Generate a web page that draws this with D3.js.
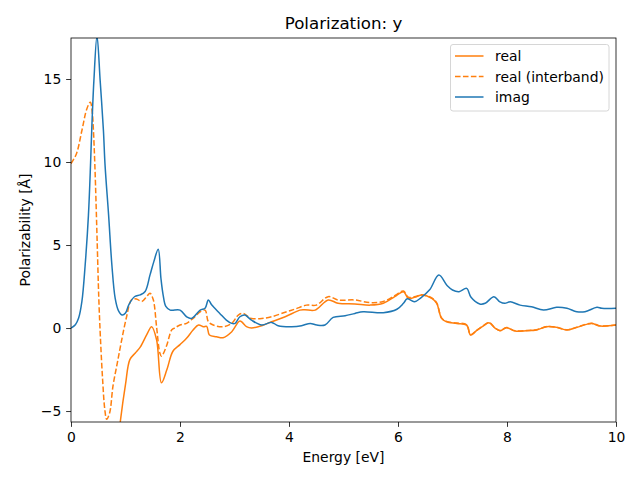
<!DOCTYPE html>
<html><head><meta charset="utf-8">
<script src="https://cdn.jsdelivr.net/npm/d3@7"></script>
<style>body{margin:0;background:#fff}svg{display:block}text{font-family:"DejaVu Sans",sans-serif;fill:#000}</style>
</head><body>
<script>
const title = "Polarization: y";
const xLabel = "Energy [eV]";
const yLabel = "Polarizability [Å]";
const seriesNames = ["real", "real (interband)", "imag"];
const xTicks = [0, 2, 4, 6, 8, 10];
const yTicks = [-5, 0, 5, 10, 15];

const energyReal = [0.6,0.7,0.8,0.91,1.0,1.08,1.18,1.27,1.39,1.48,1.57,1.66,1.76,1.87,2.0,2.12,2.24,2.34,2.43,2.49,2.54,2.67,2.79,2.95,3.1,3.22,3.31,3.5,3.68,3.93,4.2,4.29,4.48,4.72,4.9,5.21,5.49,5.73,5.94,6.1,6.19,6.34,6.43,6.62,6.71,6.8,6.89,7.08,7.26,7.33,7.44,7.56,7.67,7.78,7.87,7.99,8.15,8.36,8.54,8.73,8.91,9.1,9.28,9.55,9.71,10];
const real = [-22,-14,-8.8,-5.5,-3.4,-1.9,-1.5,-1.15,-0.4,0.08,-0.7,-3.3,-2.5,-1.4,-1.0,-0.62,-0.12,0.18,0.08,0.1,-0.42,-0.52,-0.58,-0.22,0.42,0.08,0.0,0.14,0.38,0.68,1.08,1.1,1.08,1.69,1.49,1.45,1.38,1.49,1.89,2.19,1.79,1.89,1.99,1.79,1.49,0.58,0.38,0.28,0.18,-0.42,-0.16,0.12,0.32,0.0,-0.16,0.02,-0.18,-0.16,-0.12,0.08,0.04,-0.12,0.04,0.28,0.12,0.18];

const energyInter = [0,0.1,0.2,0.29,0.355,0.39,0.41,0.44,0.475,0.51,0.54,0.58,0.62,0.655,0.71,0.77,0.85,0.93,1.02,1.11,1.2,1.3,1.39,1.45,1.51,1.57,1.63,1.66,1.75,1.85,1.9,2.0,2.12,2.24,2.37,2.46,2.52,2.61,2.79,2.95,3.07,3.16,3.25,3.31,3.5,3.68,3.93,4.11,4.32,4.5,4.72,4.9,5.21,5.49,5.73,5.94,6.1,6.19,6.34,6.43,6.62,6.71,6.8,6.89,7.08,7.26,7.33,7.44,7.56,7.67,7.78,7.87,7.99,8.15,8.36,8.54,8.73,8.91,9.1,9.28,9.55,9.71,10];
const interband = [9.9,10.5,11.9,13.2,13.6,13.0,12.0,9.6,5.8,1.8,-0.6,-3.1,-4.9,-5.5,-5.1,-3.5,-2.1,-0.72,0.68,1.7,1.75,1.6,1.9,2.1,1.7,0.08,-1.5,-1.7,-1.1,-0.1,0.0,0.18,0.28,0.58,0.98,1.08,0.38,0.18,0.08,0.28,0.78,0.88,0.68,0.58,0.58,0.68,0.95,1.14,1.38,1.38,1.89,1.69,1.69,1.53,1.6,1.95,2.23,1.85,1.92,2.0,1.82,1.52,0.6,0.4,0.3,0.2,-0.4,-0.15,0.13,0.33,0.01,-0.15,0.03,-0.17,-0.15,-0.11,0.09,0.05,-0.11,0.05,0.29,0.13,0.19];

const energyImag = [0,0.08,0.14,0.2,0.26,0.32,0.36,0.38,0.42,0.477,0.535,0.595,0.625,0.69,0.75,0.81,0.87,0.94,1.0,1.06,1.17,1.27,1.36,1.45,1.52,1.6,1.65,1.69,1.74,1.82,2.0,2.12,2.21,2.37,2.46,2.52,2.58,2.73,2.85,2.95,3.01,3.1,3.19,3.31,3.5,3.68,3.8,4.05,4.23,4.39,4.51,4.66,4.81,5.03,5.21,5.36,5.73,5.98,6.1,6.17,6.3,6.42,6.58,6.75,6.9,7.0,7.12,7.26,7.34,7.5,7.6,7.76,7.87,7.96,8.06,8.24,8.45,8.67,8.91,9.1,9.28,9.43,9.65,9.74,10];
const imag = [0,0.2,0.6,1.6,3.8,6.8,10.0,11.9,14.9,17.6,14.9,11.9,9.8,6.8,3.8,1.8,1.05,0.78,0.9,1.4,1.9,2.0,2.2,3.2,4.0,4.75,3.0,2.0,1.3,1.08,1.08,0.68,0.58,1.08,1.19,1.69,1.4,0.88,0.48,0.28,0.28,0.68,0.78,0.48,0.18,0.34,0.14,0.08,0.14,0.28,0.18,0.18,0.64,0.74,0.88,0.98,0.92,1.13,1.49,1.76,1.58,1.82,2.3,3.19,2.56,2.29,2.19,2.39,1.85,1.45,1.49,1.89,1.58,1.49,1.58,1.38,1.28,1.08,1.25,1.19,0.98,0.98,1.25,1.19,1.19];

const W = 640, H = 480;
const m = {left: 71, right: 616, top: 38, bottom: 422};
const x = d3.scaleLinear().domain([0, 10]).range([m.left, m.right]);
const y = d3.scaleLinear().domain([-5.66, 17.47]).range([m.bottom, m.top]);

const svg = d3.select("body").append("svg").attr("width", W).attr("height", H);
svg.append("rect").attr("width", W).attr("height", H).attr("fill", "#fff");
svg.append("defs").append("clipPath").attr("id", "clip").append("rect")
  .attr("x", m.left).attr("y", m.top).attr("width", m.right - m.left).attr("height", m.bottom - m.top);

const colors = ["#ff7f0e", "#ff7f0e", "#1f77b4"];
const dashes = [null, "5.55,2.4", null];
const data = [
  d3.zip(energyReal, real),
  d3.zip(energyInter, interband),
  d3.zip(energyImag, imag)
];
const line = d3.line().x(d => x(d[0])).y(d => y(d[1])).curve(d3.curveCatmullRom.alpha(0.5));
const g = svg.append("g").attr("clip-path", "url(#clip)");
data.forEach((d, i) => {
  g.append("path").datum(d).attr("d", line).attr("fill", "none")
    .attr("stroke", colors[i]).attr("stroke-width", 1.5)
    .attr("stroke-dasharray", dashes[i]).attr("stroke-linejoin", "round");
});

const fmt = v => (v < 0 ? "\u2212" + Math.abs(v) : String(v));
const xAxis = svg.append("g").attr("transform", `translate(0,${m.bottom})`)
  .call(d3.axisBottom(x).tickValues(xTicks).tickFormat(fmt).tickSizeOuter(0).tickSize(4.86).tickPadding(4.86));
const yAxis = svg.append("g").attr("transform", `translate(${m.left},0)`)
  .call(d3.axisLeft(y).tickValues(yTicks).tickFormat(fmt).tickSizeOuter(0).tickSize(4.86).tickPadding(4.86));
[xAxis, yAxis].forEach(a => {
  a.select(".domain").remove();
  a.selectAll("line").attr("stroke", "#000").attr("stroke-width", 0.8);
  a.selectAll("text").style("font-size", "13.9px").style("font-family", "DejaVu Sans");
});

svg.append("rect").attr("x", m.left).attr("y", m.top).attr("width", m.right - m.left)
  .attr("height", m.bottom - m.top).attr("fill", "none").attr("stroke", "#000").attr("stroke-width", 0.8);

svg.append("text").attr("x", (m.left + m.right) / 2).attr("y", 29).attr("text-anchor", "middle")
  .style("font-size", "16.67px").text(title);
svg.append("text").attr("x", (m.left + m.right) / 2).attr("y", 462).attr("text-anchor", "middle")
  .style("font-size", "13.9px").text(xLabel);
svg.append("text").attr("transform", `translate(30,${(m.top + m.bottom) / 2}) rotate(-90)`)
  .attr("text-anchor", "middle").style("font-size", "13.9px").text(yLabel);

const lg = svg.append("g");
lg.append("rect").attr("x", 450.5).attr("y", 44.5).attr("width", 158.5).attr("height", 66.5)
  .attr("rx", 2.5).attr("fill", "#fff").attr("fill-opacity", 0.8).attr("stroke", "#d6d6d6").attr("stroke-width", 1);
const ly = [56, 76.5, 97];
seriesNames.forEach((n, i) => {
  lg.append("line").attr("x1", 455).attr("x2", 483.5).attr("y1", ly[i]).attr("y2", ly[i])
    .attr("stroke", colors[i]).attr("stroke-width", 1.5).attr("stroke-dasharray", dashes[i]);
  lg.append("text").attr("x", 495).attr("y", ly[i] + 5).style("font-size", "13.9px").text(n);
});
</script>
</body></html>
